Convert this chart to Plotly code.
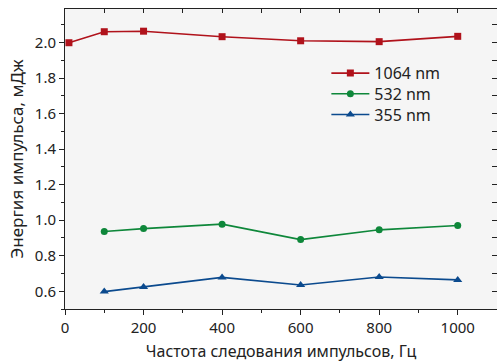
import plotly.graph_objects as go

freq_1064 = [10, 100, 200, 400, 600, 800, 1000]
energy_1064 = [2.000, 2.062, 2.065, 2.034, 2.011, 2.006, 2.036]
freq_532 = [100, 200, 400, 600, 800, 1000]
energy_532 = [0.937, 0.953, 0.978, 0.891, 0.946, 0.970]
freq_355 = [100, 200, 400, 600, 800, 1000]
energy_355 = [0.598, 0.624, 0.678, 0.635, 0.680, 0.664]

names = ["1064 nm", "532 nm", "355 nm"]
x_ticks = [0, 200, 400, 600, 800, 1000]
y_ticks = [0.6, 0.8, 1.0, 1.2, 1.4, 1.6, 1.8, 2.0]

red = "#B0121B"
green = "#0E873A"
blue = "#0B4A8E"
FONT = "Noto Sans"

fig = go.Figure()
fig.add_trace(go.Scatter(x=freq_1064, y=energy_1064, name=names[0], mode="lines+markers",
                         line=dict(color=red, width=1.6), legend="legend",
                         marker=dict(symbol="square", size=7, color=red)))
fig.add_trace(go.Scatter(x=freq_532, y=energy_532, name=names[1], mode="lines+markers",
                         line=dict(color=green, width=1.6), legend="legend2",
                         marker=dict(symbol="circle", size=7, color=green)))
fig.add_trace(go.Scatter(x=freq_355, y=energy_355, name=names[2], mode="lines+markers",
                         line=dict(color=blue, width=1.6), legend="legend3",
                         marker=dict(symbol="triangle-up", size=8, color=blue)))
# invisible trace to activate mirrored axes (top / right) with inward ticks
fig.add_trace(go.Scatter(x=freq_1064, y=energy_1064, xaxis="x2", yaxis="y2", mode="lines",
                         line=dict(width=0), opacity=0, showlegend=False, hoverinfo="skip"))

axis_color = "#222222"
leg_common = dict(x=0.605, xanchor="left", yanchor="middle", bgcolor="rgba(0,0,0,0)",
                  font=dict(size=16, family=FONT), itemwidth=38)
fig.update_layout(
    width=497, height=362,
    margin=dict(l=65, r=0, t=9, b=53),
    paper_bgcolor="white",
    plot_bgcolor="#F5F5F5",
    font=dict(family=FONT, size=15, color="#222222"),
    showlegend=True,
    legend=dict(y=0.786, **leg_common),
    legend2=dict(y=0.717, **leg_common),
    legend3=dict(y=0.648, **leg_common),
    xaxis=dict(range=[0, 1100], tickvals=x_ticks, ticks="outside", ticklen=5, tickwidth=1,
               tickcolor=axis_color, showline=True, linecolor=axis_color, linewidth=1,
               showgrid=False, zeroline=False, automargin=False,
               minor=dict(dtick=100, tick0=0, ticks="outside", ticklen=3, tickcolor=axis_color, showgrid=False),
               title=dict(text="Частота следования импульсов, Гц", font=dict(size=16), standoff=13),
               tickfont=dict(size=15)),
    yaxis=dict(range=[0.5, 2.19], tickvals=y_ticks, ticktext=[f"{v:.1f}" for v in y_ticks],
               ticks="outside", ticklen=5, tickwidth=1,
               tickcolor=axis_color, showline=True, linecolor=axis_color, linewidth=1,
               showgrid=False, zeroline=False, automargin=False,
               minor=dict(dtick=0.1, tick0=0, ticks="outside", ticklen=3, tickcolor=axis_color, showgrid=False),
               title=dict(text="Энергия импульса, мДж", font=dict(size=17), standoff=6),
               tickfont=dict(size=15)),
    xaxis2=dict(range=[0, 1100], overlaying="x", side="top", anchor="y2", dtick=100, tick0=0,
                ticks="inside", ticklen=4, tickcolor=axis_color, showticklabels=False, automargin=False,
                showline=True, linecolor=axis_color, linewidth=1, showgrid=False, zeroline=False),
    yaxis2=dict(range=[0.5, 2.19], overlaying="y", side="right", anchor="x2", dtick=0.1, tick0=0,
                ticks="inside", ticklen=5, tickcolor=axis_color, showticklabels=False, automargin=False,
                showline=True, linecolor=axis_color, linewidth=1, showgrid=False, zeroline=False),
)

fig.write_html("out.html", config={"displayModeBar": False},
               post_script="document.body.style.margin='0';document.body.style.overflow='hidden';")
